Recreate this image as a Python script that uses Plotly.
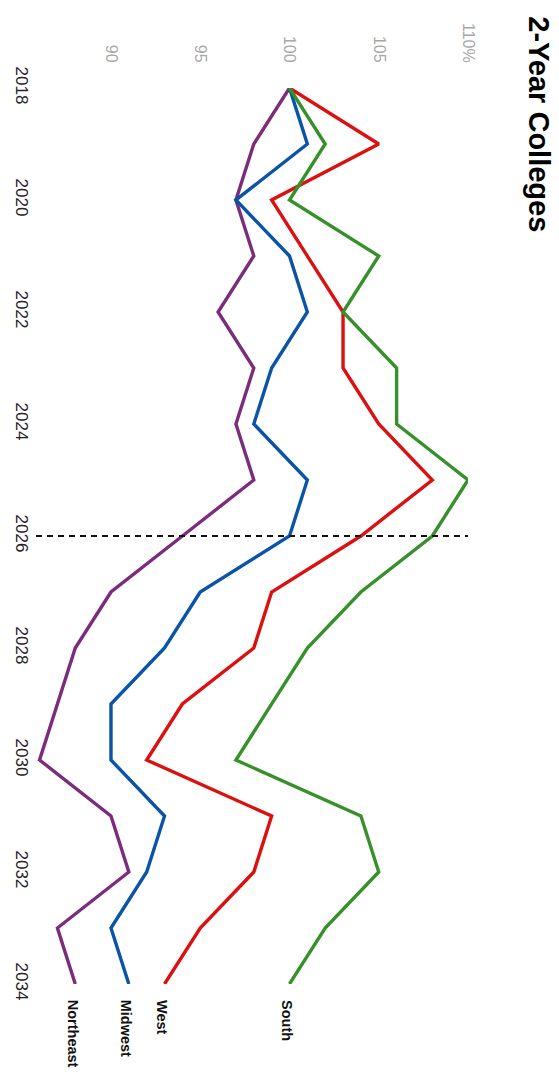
import plotly.graph_objects as go

# Enrollment index by region, 2018 = 100
years = list(range(2018, 2035))
northeast = [100, 98, 97, 98, 96, 98, 97, 98, 94, 90, 88, 87, 86, 90, 91, 87, 88]
midwest = [100, 101, 97, 100, 101, 99, 98, 101, 100, 95, 93, 90, 90, 93, 92, 90, 91]
west = [100, 105, 99, 101, 103, 103, 105, 108, 104, 99, 98, 94, 92, 99, 98, 95, 93]
south = [100, 102, 100, 105, 103, 106, 106, 110, 108, 104, 101, 99, 97, 104, 105, 102, 100]

series_names = ["Northeast", "Midwest", "West", "South"]
series_values = [northeast, midwest, west, south]
series_colors = ["#7b2c7c", "#0a54a8", "#dc1010", "#36912a"]

value_ticks = [90, 95, 100, 105, 110]
value_tick_labels = ["90", "95", "100", "105", "110%"]
year_ticks = list(range(2018, 2035, 2))
projection_year = 2026

FONT = "Liberation Sans, Arial, sans-serif"

# Plot area in pixels
W, H = 559, 1085
L, R, T, B = 28, 468, 88, 984


def px_x(p):
    return (p - L) / (R - L)


def px_y(p):
    return (B - p) / (B - T)


fig = go.Figure()

for name, vals, col in zip(series_names, series_values, series_colors):
    fig.add_trace(go.Scatter(
        x=vals, y=years, mode="lines", name=name,
        line=dict(color=col, width=3.4),
        cliponaxis=False, hoverinfo="skip",
    ))
    fig.add_annotation(
        x=vals[-1], y=years[-1], xref="x", yref="y",
        text=f"<b>{name}</b>", showarrow=False, textangle=90,
        xanchor="center", yanchor="top", yshift=-14, xshift=-2,
        font=dict(family=FONT, size=14.5, color="#111111"),
    )

# Vertical reference at the first projected year
fig.add_shape(
    type="line", xref="paper", yref="y",
    x0=0, x1=1, y0=projection_year, y1=projection_year,
    line=dict(color="#111111", width=2, dash="6px,5px"),
)

fig.add_annotation(
    x=px_x(540), y=px_y(14), xref="paper", yref="paper",
    text="<b>2-Year Colleges</b>", showarrow=False, textangle=90,
    xanchor="center", yanchor="top",
    font=dict(family=FONT, size=29, color="#000000"),
)

fig.update_layout(
    width=W, height=H, autosize=False,
    margin=dict(l=L, r=W - R, t=T, b=H - B, pad=0),
    paper_bgcolor="white", plot_bgcolor="white",
    showlegend=False,
    xaxis=dict(
        range=[85.8, 110], side="top",
        tickvals=value_ticks, ticktext=value_tick_labels,
        tickangle=90, ticks="", ticklabelstandoff=22,
        tickfont=dict(family=FONT, size=16, color="#a8a8a8"),
        showgrid=False, zeroline=False, showline=False,
    ),
    yaxis=dict(
        range=[years[-1], years[0]],
        tickvals=year_ticks, ticktext=[str(y) for y in year_ticks],
        tickangle=90, ticks="", ticklabelstandoff=2,
        tickfont=dict(family=FONT, size=17, color="#222222"),
        showgrid=False, zeroline=False, showline=False,
    ),
)

fig.write_html("out.html")
